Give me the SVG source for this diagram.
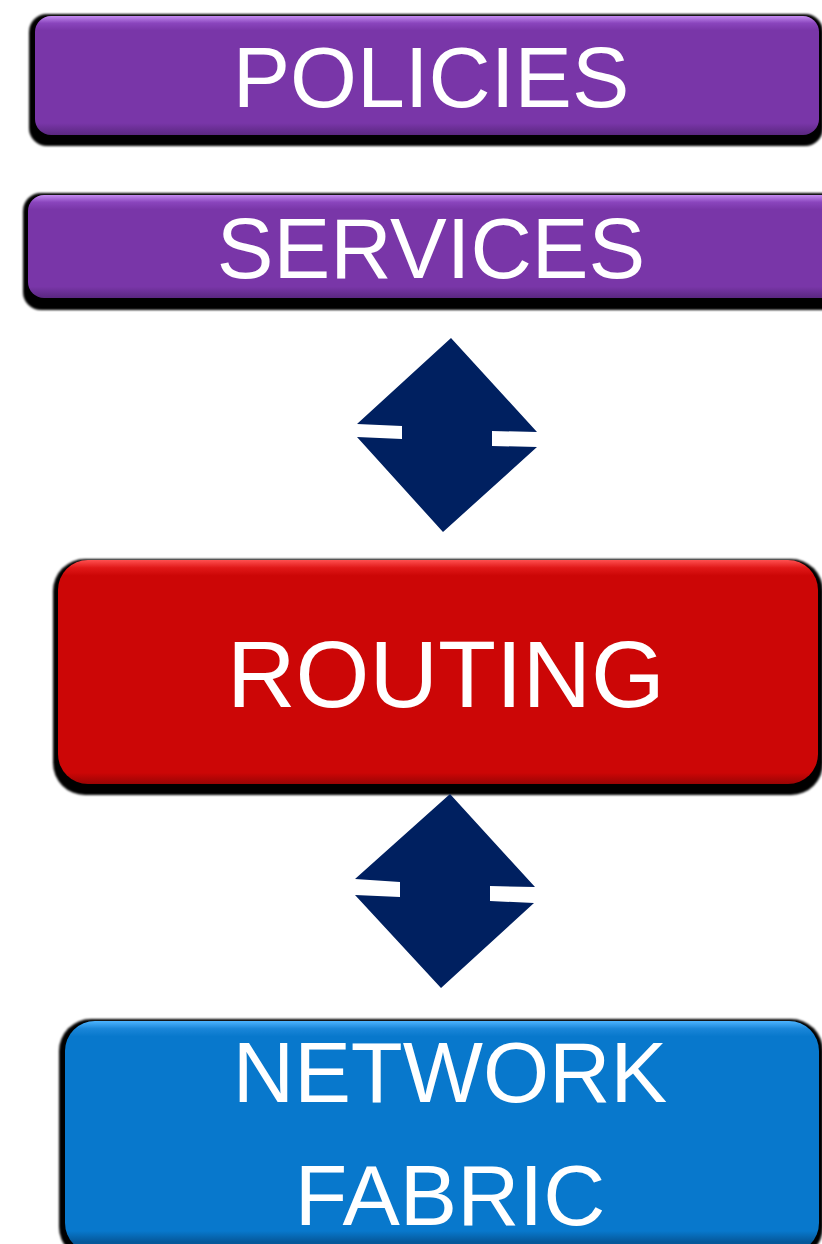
<svg xmlns="http://www.w3.org/2000/svg" width="822" height="1244" viewBox="0 0 822 1244">
  <defs>
    <filter id="soft" x="-5%" y="-5%" width="110%" height="110%">
      <feGaussianBlur stdDeviation="1"/>
    </filter>
    <linearGradient id="gPol" gradientUnits="userSpaceOnUse" x1="0" y1="16" x2="0" y2="135">
      <stop offset="0" stop-color="#c48cf0"/>
      <stop offset="0.06" stop-color="#8a45bd"/>
      <stop offset="0.12" stop-color="#7936a8"/>
      <stop offset="0.9" stop-color="#7936a8"/>
      <stop offset="1" stop-color="#5a2780"/>
    </linearGradient>
    <linearGradient id="gSer" gradientUnits="userSpaceOnUse" x1="0" y1="195" x2="0" y2="298">
      <stop offset="0" stop-color="#c48cf0"/>
      <stop offset="0.07" stop-color="#8a45bd"/>
      <stop offset="0.14" stop-color="#7936a8"/>
      <stop offset="0.89" stop-color="#7936a8"/>
      <stop offset="1" stop-color="#5a2780"/>
    </linearGradient>
    <linearGradient id="gRou" gradientUnits="userSpaceOnUse" x1="0" y1="560" x2="0" y2="784">
      <stop offset="0" stop-color="#ff5050"/>
      <stop offset="0.035" stop-color="#e01818"/>
      <stop offset="0.07" stop-color="#cc0606"/>
      <stop offset="0.95" stop-color="#cc0606"/>
      <stop offset="1" stop-color="#9a0404"/>
    </linearGradient>
    <linearGradient id="gNet" gradientUnits="userSpaceOnUse" x1="0" y1="1021" x2="0" y2="1242">
      <stop offset="0" stop-color="#4cb4ff"/>
      <stop offset="0.035" stop-color="#1a86d8"/>
      <stop offset="0.07" stop-color="#0878cc"/>
      <stop offset="0.95" stop-color="#0878cc"/>
      <stop offset="1" stop-color="#05589a"/>
    </linearGradient>
    <style>
      .shadow { fill: #000000; filter: url(#soft); }
      .label { fill: #ffffff; font-family: "Liberation Sans", Arial, sans-serif; text-anchor: middle; }
      .arrow { fill: #002060; }
    </style>
  </defs>

  <g id="node-policies">
    <rect class="shadow" x="29" y="14" width="794" height="132" rx="18" ry="18"/>
    <rect x="35" y="16" width="784" height="119" rx="16" ry="16" fill="url(#gPol)"/>
    <text class="label" x="431" y="107" font-size="86">POLICIES</text>
  </g>

  <g id="node-services">
    <rect class="shadow" x="23" y="193" width="830" height="117" rx="18" ry="18"/>
    <rect x="28" y="195" width="820" height="103" rx="16" ry="16" fill="url(#gSer)"/>
    <text class="label" x="431" y="278" font-size="85">SERVICES</text>
  </g>

  <g id="node-routing">
    <rect class="shadow" x="53" y="559" width="770" height="236" rx="32" ry="32"/>
    <rect x="58" y="560" width="760" height="224" rx="30" ry="30" fill="url(#gRou)"/>
    <text class="label" x="446" y="707" font-size="95">ROUTING</text>
  </g>

  <g id="node-network">
    <rect class="shadow" x="59" y="1019" width="764" height="240" rx="32" ry="32"/>
    <rect x="65" y="1021" width="754" height="232" rx="30" ry="30" fill="url(#gNet)"/>
    <text class="label" x="450" y="1102" font-size="85">NETWORK</text>
    <text class="label" x="450" y="1225" font-size="86">FABRIC</text>
  </g>

  <g id="connectors">
    <polygon class="arrow" points="451,338 537,432 492,431 492,446 537,447 443,532 357,437 402,439 402,426 357,424"/>
    <polygon class="arrow" points="450,794 535,887 490,886 490,901 534,903 441,988 355,895 400,897 400,882 355,879"/>
  </g>
</svg>
